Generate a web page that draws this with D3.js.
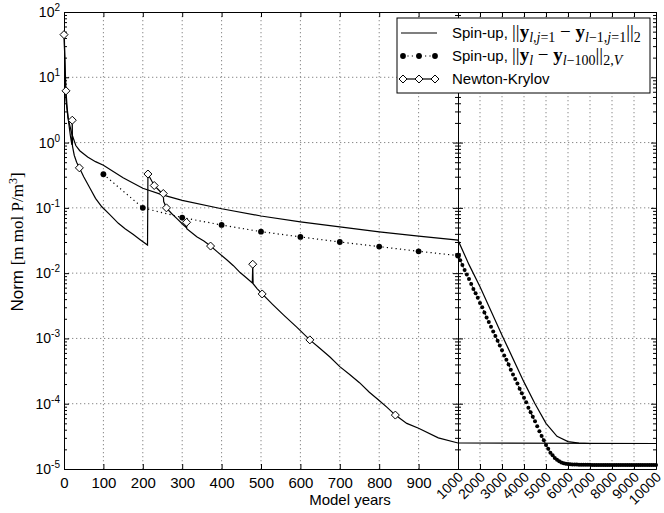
<!DOCTYPE html>
<html>
<head>
<meta charset="utf-8">
<script src="https://cdn.jsdelivr.net/npm/d3@7"></script>
<style>
body { margin: 0; background: #fff; }
text { font-family: "Liberation Sans", Arial, sans-serif; fill: #000; }
.serif { font-family: "Liberation Serif", "Times New Roman", serif; }
.axis path, .axis line { stroke: #000; stroke-width: 1; }
.grid { stroke: #888; stroke-width: 1; stroke-dasharray: 1.3,2.7; }
</style>
</head>
<body>
<svg id="chart" width="664" height="513"></svg>
<script>
// spin-up, ||y_{l,j=1} - y_{l-1,j=1}||_2  (solid line)
const spinYears = [1, 3, 5, 10, 20, 30, 40, 60, 80, 100, 150, 200, 250, 300, 400, 500, 600, 700, 800, 900, 1000,
  1500, 2000, 3000, 4000, 4500, 5000, 5500, 6000, 6500, 7000, 10000];
const spinNorm = [40, 8, 4.5, 2.4, 1.35, 0.9, 0.75, 0.6, 0.51, 0.45, 0.29, 0.2, 0.158, 0.13, 0.097, 0.075, 0.061, 0.051, 0.043, 0.037, 0.032,
  0.0135, 0.0062, 0.00112, 0.000214, 0.0001, 0.00005, 0.0000316, 0.0000263, 0.0000249, 0.0000246, 0.0000246];

// spin-up, ||y_l - y_{l-100}||_2,V  (every 100 model years, dotted with dots)
const diffYears = d3.range(100, 10001, 100);
const diffNorm = [0.327, 0.10, 0.071, 0.0547, 0.0432, 0.0359, 0.030, 0.0255, 0.0216, 0.0186,
  0.0158, 0.0133, 0.0112, 0.0095, 0.0081, 0.0068, 0.0057, 0.0049, 0.0042, 0.0035,
  0.0030, 0.0025, 0.0021, 0.00178, 0.00151, 0.00128, 0.00109, 0.00092, 0.00078, 0.00066,
  0.00055, 0.00047, 0.00040, 0.00033, 0.00028, 0.00024, 0.000204, 0.00017, 0.000145, 0.000123,
  0.000105, 0.000087, 0.000074, 0.000063, 0.000054, 0.000045, 0.000038, 0.000032, 0.0000275, 0.0000234,
  0.0000204, 0.0000178, 0.0000162, 0.0000148, 0.0000138, 0.0000132, 0.0000126, 0.0000123, 0.000012, 0.0000119,
  0.0000118, 0.0000117, 0.0000117, 0.0000117, 0.0000116, 0.0000116, 0.0000116, 0.0000116, 0.0000116, 0.0000116,
  0.0000115, 0.0000115, 0.0000115, 0.0000115, 0.0000115, 0.0000115, 0.0000115, 0.0000115, 0.0000115, 0.0000115,
  0.0000115, 0.0000115, 0.0000115, 0.0000115, 0.0000115, 0.0000115, 0.0000115, 0.0000115, 0.0000115, 0.0000115,
  0.0000115, 0.0000115, 0.0000115, 0.0000115, 0.0000115, 0.0000115, 0.0000115, 0.0000115, 0.0000115, 0.0000115];

// Newton-Krylov, norm along model years (solid line)
const nkYears = [0, 5, 8, 12, 16, 20, 21, 21.5, 26, 32, 39, 50, 66, 80, 96, 115, 138, 155, 176, 195,
  212, 213, 229, 244, 251, 252, 253, 260, 273, 286, 300, 310, 311, 311.5, 337, 355, 372, 390, 413, 430,
  447, 465, 478, 479, 480, 490, 503, 530, 557, 590, 624, 650, 675, 700, 725, 750, 775, 800, 820, 841,
  870, 900, 950, 1000, 10000];
const nkNorm = [45, 6.2, 3.4, 2.0, 1.3, 0.92, 2.2, 0.88, 0.64, 0.5, 0.41, 0.3, 0.2, 0.14, 0.104, 0.08, 0.058, 0.048, 0.039, 0.032,
  0.027, 0.33, 0.22, 0.178, 0.158, 0.166, 0.125, 0.10, 0.082, 0.069, 0.057, 0.05, 0.060, 0.048, 0.036, 0.031, 0.026, 0.021, 0.016, 0.013,
  0.0102, 0.0083, 0.0071, 0.0137, 0.0069, 0.0058, 0.0048, 0.0033, 0.0023, 0.0015, 0.00095, 0.0007, 0.00052, 0.00037, 0.00028, 0.00021, 0.00015, 0.000112, 0.000088, 0.000067,
  0.00005, 0.000042, 0.00003, 0.000025, 0.0000246];
// Newton steps (diamonds)
const stepYears = [0, 5, 21, 39, 213, 229, 252, 260, 311, 372, 479, 503, 624, 841];
const stepNorm = [45, 6.2, 2.2, 0.41, 0.33, 0.22, 0.166, 0.10, 0.060, 0.026, 0.0137, 0.0048, 0.00095, 0.000067];

const leftTicks = [0, 100, 200, 300, 400, 500, 600, 700, 800, 900];
const rightTicks = [1000, 2000, 3000, 4000, 5000, 6000, 7000, 8000, 9000, 10000];
const decades = [-5, -4, -3, -2, -1, 0, 1, 2];

const svg = d3.select("#chart");
const pTop = 12, pBottom = 469, pLeft = 64, pMid = 458, pRight = 656;

const xL = d3.scaleLinear().domain([0, 1000]).range([pLeft, pMid]);
const xR = d3.scaleLinear().domain([1000, 10000]).range([pMid, pRight]);
const y = d3.scaleLog().domain([1e-5, 1e2]).range([pBottom, pTop]);
const xAny = (v) => v <= 1000 ? xL(v) : xR(v);

// minor log ticks
let minor = [];
decades.slice(0, -1).forEach(e => {
  for (let k = 2; k <= 9; k++) minor.push(k * Math.pow(10, e));
});
const majorVals = decades.map(e => Math.pow(10, e));

// grid
const grid = svg.append("g");
leftTicks.slice(1).forEach(t => grid.append("line").attr("class", "grid")
  .attr("x1", xL(t)).attr("x2", xL(t)).attr("y1", pTop).attr("y2", pBottom));
rightTicks.slice(1, -1).forEach(t => grid.append("line").attr("class", "grid")
  .attr("x1", xR(t)).attr("x2", xR(t)).attr("y1", pTop).attr("y2", pBottom));
majorVals.slice(1, -1).forEach(v => grid.append("line").attr("class", "grid")
  .attr("x1", pLeft).attr("x2", pRight).attr("y1", y(v)).attr("y2", y(v)));

// axes (ticks inside, matlab style)
function ax(gen, tx, ty) {
  return svg.append("g").attr("class", "axis")
    .attr("transform", "translate(" + tx + "," + ty + ")")
    .call(gen);
}
const noLab = () => "";
ax(d3.axisBottom(xL).tickValues(leftTicks.concat([1000])).tickSize(-5).tickSizeOuter(0).tickPadding(8.5)
  .tickFormat(d => d === 1000 ? "" : d), 0, pBottom)
  .selectAll("text").style("font-size", "15px");
ax(d3.axisTop(xL).tickValues(leftTicks.concat([1000])).tickSize(-5).tickSizeOuter(0).tickFormat(noLab), 0, pTop);
ax(d3.axisBottom(xR).tickValues(rightTicks).tickSize(-5).tickSizeOuter(0).tickFormat(noLab), 0, pBottom);
ax(d3.axisTop(xR).tickValues(rightTicks).tickSize(-5).tickSizeOuter(0).tickFormat(noLab), 0, pTop);

[[d3.axisLeft, pLeft], [d3.axisRight, pMid], [d3.axisLeft, pMid], [d3.axisRight, pRight]].forEach(([g, x]) => {
  ax(g(y).tickValues(majorVals).tickSize(-5).tickSizeOuter(0).tickFormat(noLab), x, 0);
  ax(g(y).tickValues(minor).tickSize(-3).tickSizeOuter(0).tickFormat(noLab), x, 0);
});
svg.selectAll(".axis").attr("font-family", null).attr("font-size", null);

// rotated labels on the right part
rightTicks.forEach(t => {
  svg.append("text")
    .attr("transform", "translate(" + (xR(t) + 6) + "," + 478 + ") rotate(-45)")
    .attr("text-anchor", "end")
    .style("font-size", "14px")
    .text(t);
});

// y tick labels 10^e
decades.forEach(e => {
  const t = svg.append("text")
    .attr("x", 60).attr("y", y(Math.pow(10, e)) + 5)
    .attr("text-anchor", "end")
    .style("font-size", "14px");
  t.append("tspan").text("10");
  t.append("tspan").attr("dy", -6).style("font-size", "10px").text(e);
});

// rich text helper (sub/superscripts)
function rich(sel, parts) {
  let shift = 0;
  parts.forEach(p => {
    const ts = sel.append("tspan").text(p.t);
    const target = p.sub ? 4 : (p.sup ? -6 : 0);
    if (target - shift !== 0) ts.attr("dy", target - shift);
    shift = target;
    if (p.serif) ts.attr("class", "serif");
    if (p.bold) ts.style("font-weight", "bold");
    if (p.it) ts.style("font-style", "italic");
    if (p.size) ts.style("font-size", p.size + "px");
  });
}

// lines
const line = d3.line().x(d => xAny(d[0])).y(d => y(d[1]));
const plot = svg.append("g");

plot.append("path")
  .datum(spinYears.map((d, i) => [d, spinNorm[i]]))
  .attr("d", line).attr("fill", "none").attr("stroke", "#000").attr("stroke-width", 1.2);

plot.append("path")
  .datum(nkYears.map((d, i) => [d, nkNorm[i]]))
  .attr("d", line).attr("fill", "none").attr("stroke", "#000").attr("stroke-width", 1.2);

plot.append("path")
  .datum(diffYears.map((d, i) => [d, diffNorm[i]]))
  .attr("d", line).attr("fill", "none").attr("stroke", "#000").attr("stroke-width", 1.2)
  .attr("stroke-dasharray", "1.2,3.2");

plot.selectAll(".dot")
  .data(diffYears.map((d, i) => [d, diffNorm[i]]))
  .enter().append("circle")
  .attr("cx", d => xAny(d[0])).attr("cy", d => y(d[1]))
  .attr("r", d => d[0] <= 1000 ? 2.9 : 2.0)
  .attr("fill", "#000");

const diamond = (cx, cy, s) => "M" + cx + "," + (cy - s) + "L" + (cx + s) + "," + cy + "L" + cx + "," + (cy + s) + "L" + (cx - s) + "," + cy + "Z";
plot.selectAll(".dia")
  .data(stepYears.map((d, i) => [d, stepNorm[i]]))
  .enter().append("path")
  .attr("d", d => diamond(xAny(d[0]), y(d[1]), 4))
  .attr("fill", "#fff").attr("stroke", "#000").attr("stroke-width", 1);

// axis labels
svg.append("text").attr("x", 350).attr("y", 505).attr("text-anchor", "middle")
  .style("font-size", "15px").text("Model years");
const yl = svg.append("text").attr("transform", "translate(23,242) rotate(-90)")
  .attr("text-anchor", "middle").style("font-size", "17px");
rich(yl, [{t: "Norm "}, {t: "[m mol P/m", serif: true}, {t: "3", sup: true, serif: true, size: 12}, {t: "]", serif: true}]);

// legend
const lg = svg.append("g");
lg.append("rect").attr("x", 397).attr("y", 18).attr("width", 253).attr("height", 75)
  .attr("fill", "#fff").attr("stroke", "#000").attr("stroke-width", 1);
const rows = [38, 61, 84];
lg.append("line").attr("x1", 401).attr("x2", 437).attr("y1", rows[0] - 5).attr("y2", rows[0] - 5)
  .attr("stroke", "#000").attr("stroke-width", 1.2);
lg.append("line").attr("x1", 403).attr("x2", 435).attr("y1", rows[1] - 5).attr("y2", rows[1] - 5)
  .attr("stroke", "#000").attr("stroke-width", 1.2).attr("stroke-dasharray", "1.2,3.2");
[403, 419, 435].forEach(x => lg.append("circle").attr("cx", x).attr("cy", rows[1] - 5).attr("r", 2.9).attr("fill", "#000"));
lg.append("line").attr("x1", 403).attr("x2", 435).attr("y1", rows[2] - 5).attr("y2", rows[2] - 5)
  .attr("stroke", "#000").attr("stroke-width", 1.2);
[403, 419, 435].forEach(x => lg.append("path").attr("d", diamond(x, rows[2] - 5, 4))
  .attr("fill", "#fff").attr("stroke", "#000"));

const M = 19, S = 14;
const t1 = lg.append("text").attr("x", 452).attr("y", rows[0]).style("font-size", "15px");
rich(t1, [{t: "Spin-up, "}, {t: "||", serif: true, size: M}, {t: "y", serif: true, bold: true, size: M},
  {t: "l,j", serif: true, it: true, sub: true, size: S}, {t: "=1", serif: true, sub: true, size: S},
  {t: " \u2212 ", serif: true, size: M}, {t: "y", serif: true, bold: true, size: M},
  {t: "l", serif: true, it: true, sub: true, size: S}, {t: "\u22121,", serif: true, sub: true, size: S},
  {t: "j", serif: true, it: true, sub: true, size: S}, {t: "=1", serif: true, sub: true, size: S},
  {t: "||", serif: true, size: M}, {t: "2", serif: true, sub: true, size: S}]);
const t2 = lg.append("text").attr("x", 452).attr("y", rows[1]).style("font-size", "15px");
rich(t2, [{t: "Spin-up, "}, {t: "||", serif: true, size: M}, {t: "y", serif: true, bold: true, size: M},
  {t: "l", serif: true, it: true, sub: true, size: S},
  {t: " \u2212 ", serif: true, size: M}, {t: "y", serif: true, bold: true, size: M},
  {t: "l", serif: true, it: true, sub: true, size: S}, {t: "\u2212100", serif: true, sub: true, size: S},
  {t: "||", serif: true, size: M}, {t: "2,", serif: true, sub: true, size: S}, {t: "V", serif: true, it: true, sub: true, size: S}]);
lg.append("text").attr("x", 452).attr("y", rows[2]).style("font-size", "15px").text("Newton-Krylov");
</script>
</body>
</html>
